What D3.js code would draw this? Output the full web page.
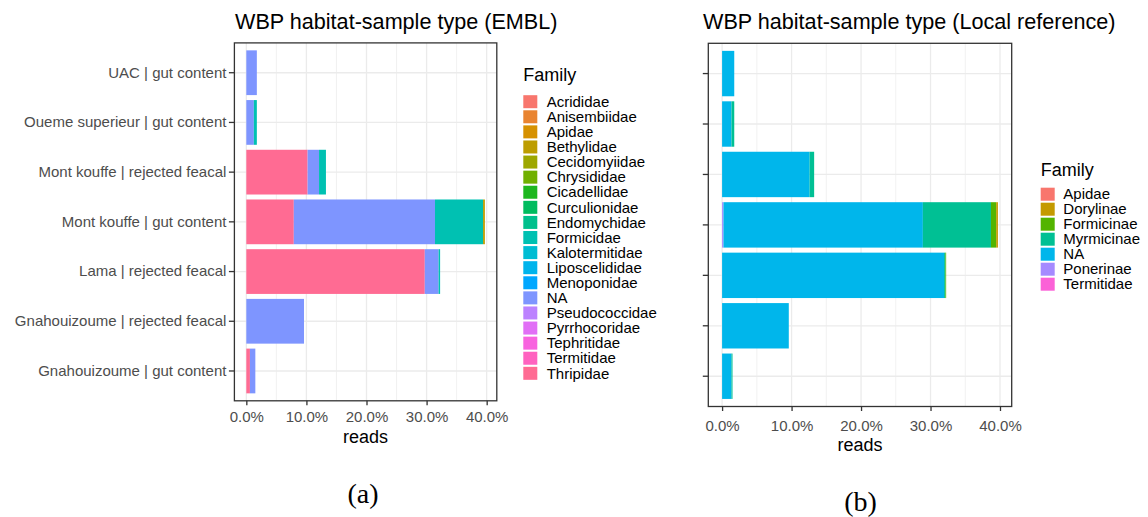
<!DOCTYPE html>
<html>
<head>
<meta charset="utf-8">
<script src="https://cdn.jsdelivr.net/npm/d3@7"></script>
<style>
  html, body { margin: 0; padding: 0; background: #ffffff; }
  svg { display: block; font-family: "Liberation Sans", Arial, sans-serif; }
</style>
</head>
<body>
<svg id="chart" width="1148" height="517"></svg>
<script>
// ---------------- data ----------------
const categories = [
  "UAC | gut content",
  "Oueme superieur | gut content",
  "Mont kouffe | rejected feacal",
  "Mont kouffe | gut content",
  "Lama | rejected feacal",
  "Gnahouizoume | rejected feacal",
  "Gnahouizoume | gut content"
];

const xTicks = [0, 0.1, 0.2, 0.3, 0.4];

// Panel (a): EMBL
const emblFamilies = ["Acrididae","Anisembiidae","Apidae","Bethylidae","Cecidomyiidae","Chrysididae",
  "Cicadellidae","Curculionidae","Endomychidae","Formicidae","Kalotermitidae","Liposcelididae",
  "Menoponidae","NA","Pseudococcidae","Pyrrhocoridae","Tephritidae","Termitidae","Thripidae"];
const emblColors = ["#F8766D","#E98430","#D69100","#BD9D00","#9DA700","#70B000",
  "#1DB71F","#00BC5F","#00C08D","#00C1B2","#00BDD3","#00B4EC",
  "#00A7FF","#7E95FF","#BC82FF","#E16FF6","#F863DF","#FF62BF","#FF6B93"];
const emblThripidae  = [0,      0,      0.102,  0.079,  0.297,  0,      0.006];
const emblNA         = [0.0175, 0.0125, 0.019,  0.235,  0.023,  0.096,  0.009];
const emblFormicidae = [0,      0.005,  0.0115, 0.080,  0.0025, 0,      0];
const emblBethylidae = [0,      0,      0,      0.003,  0,      0,      0];

// Panel (b): Local reference
const localFamilies = ["Apidae","Dorylinae","Formicinae","Myrmicinae","NA","Ponerinae","Termitidae"];
const localColors = ["#F8766D","#C49A00","#53B400","#00C094","#00B6EB","#A58AFF","#FB61D7"];
const localPonerinae  = [0,      0,      0,      0.002,  0,       0,     0];
const localNA         = [0.0175, 0.0135, 0.126,  0.287,  0.3195,  0.096, 0.0135];
const localMyrmicinae = [0,      0.004,  0.0065, 0.098,  0.002,   0,     0.0015];
const localFormicinae = [0,      0,      0,      0.0075, 0.001,   0,     0];
const localDorylinae  = [0,      0,      0,      0.0025, 0,       0,     0];

// ---------------- helpers ----------------
function buildRows(families, series) {
  return categories.map((c, i) => {
    const row = { category: c };
    families.forEach(f => { row[f] = series[f] ? series[f][i] : 0; });
    return row;
  });
}

const emblRows = buildRows(emblFamilies, {
  Thripidae: emblThripidae, NA: emblNA, Formicidae: emblFormicidae, Bethylidae: emblBethylidae
});
const localRows = buildRows(localFamilies, {
  Ponerinae: localPonerinae, NA: localNA, Myrmicinae: localMyrmicinae,
  Formicinae: localFormicinae, Dorylinae: localDorylinae
});

const svg = d3.select("#chart");
const GRID = "#EBEBEB", BORDER = "#333333", TICKTXT = "#4D4D4D";
const SMALL = 15;

function drawPanel(cfg) {
  const { rows, families, colors, x0, x1, y0, y1, showY, title, titleX, titleY,
          tickPad, readsY, legendX, legendTitleY, legendRow0, legendStep, labelOffset } = cfg;

  const totals = rows.map(r => d3.sum(families, f => r[f]));
  const maxV = d3.max(totals);
  const x = d3.scaleLinear().domain([-0.05 * maxV, 1.05 * maxV]).range([x0, x1]);
  const y = d3.scaleBand().domain(categories).range([y0, y1]).paddingInner(0.1).paddingOuter(0.15);
  const color = d3.scaleOrdinal().domain(families).range(colors);

  const g = svg.append("g");

  g.append("rect").attr("x", x0).attr("y", y0).attr("width", x1 - x0).attr("height", y1 - y0)
    .attr("fill", "#ffffff");

  const minor = xTicks.slice(0, -1).map((t, i) => (t + xTicks[i + 1]) / 2);
  g.selectAll(".minor").data(minor).join("line")
    .attr("x1", d => x(d)).attr("x2", d => x(d)).attr("y1", y0).attr("y2", y1)
    .attr("stroke", GRID).attr("stroke-width", 0.7);
  g.selectAll(".majorx").data(xTicks).join("line")
    .attr("x1", d => x(d)).attr("x2", d => x(d)).attr("y1", y0).attr("y2", y1)
    .attr("stroke", GRID).attr("stroke-width", 1.3);
  g.selectAll(".majory").data(categories).join("line")
    .attr("x1", x0).attr("x2", x1)
    .attr("y1", d => y(d) + y.bandwidth() / 2).attr("y2", d => y(d) + y.bandwidth() / 2)
    .attr("stroke", GRID).attr("stroke-width", 1.3);

  // stacked bars: ggplot stacks last level first (leftmost)
  const stack = d3.stack().keys(families.slice().reverse());
  const series = stack(rows);
  g.selectAll(".layer").data(series).join("g")
    .attr("fill", d => color(d.key))
    .selectAll("rect").data(d => d.filter(p => p[1] - p[0] > 0)).join("rect")
      .attr("x", d => x(d[0]))
      .attr("width", d => x(d[1]) - x(d[0]))
      .attr("y", d => y(d.data.category))
      .attr("height", y.bandwidth());

  g.append("rect").attr("x", x0).attr("y", y0).attr("width", x1 - x0).attr("height", y1 - y0)
    .attr("fill", "none").attr("stroke", BORDER).attr("stroke-width", 1.3);

  const yAxis = d3.axisLeft(y).tickSize(5.5).tickPadding(2.5);
  if (!showY) yAxis.tickFormat(() => "");
  const ya = g.append("g").attr("transform", `translate(${x0},0)`).call(yAxis);
  ya.select(".domain").remove();
  ya.selectAll("line").attr("stroke", BORDER).attr("stroke-width", 1.3);
  ya.selectAll("text").attr("fill", TICKTXT).attr("font-size", SMALL)
    .attr("font-family", "'Liberation Sans', Arial, sans-serif");

  const xAxis = d3.axisBottom(x).tickValues(xTicks).tickFormat(d3.format(".1%"))
    .tickSize(4.5).tickPadding(tickPad);
  const xa = g.append("g").attr("transform", `translate(0,${y1})`).call(xAxis);
  xa.select(".domain").remove();
  xa.selectAll("line").attr("stroke", BORDER).attr("stroke-width", 1.3);
  xa.selectAll("text").attr("fill", TICKTXT).attr("font-size", SMALL)
    .attr("font-family", "'Liberation Sans', Arial, sans-serif");

  g.append("text").attr("x", (x0 + x1) / 2).attr("y", readsY).attr("text-anchor", "middle")
    .attr("font-size", 18).attr("fill", "#000").text("reads");

  g.append("text").attr("x", titleX).attr("y", titleY).attr("font-size", 21.6)
    .attr("fill", "#000").text(title);

  const lg = g.append("g");
  lg.append("text").attr("x", legendX).attr("y", legendTitleY).attr("font-size", 18)
    .attr("fill", "#000").text("Family");
  const items = lg.selectAll(".item").data(families).join("g")
    .attr("transform", (d, i) => `translate(${legendX},${legendRow0 + i * legendStep})`);
  items.append("rect").attr("x", 0).attr("y", -6.5).attr("width", 14).attr("height", 13)
    .attr("fill", d => color(d));
  items.append("text").attr("x", labelOffset).attr("y", 0).attr("dy", "0.35em")
    .attr("font-size", SMALL).attr("fill", "#000").text(d => d);
}

drawPanel({
  rows: emblRows, families: emblFamilies, colors: emblColors,
  x0: 234.4, x1: 496.8, y0: 42.9, y1: 400.8, showY: true,
  title: "WBP habitat-sample type (EMBL)", titleX: 235, titleY: 28.8,
  tickPad: 6.5, readsY: 442.5,
  legendX: 523.3, legendTitleY: 81.2, legendRow0: 101.7, legendStep: 15.09, labelOffset: 23.4
});

drawPanel({
  rows: localRows, families: localFamilies, colors: localColors,
  x0: 708.3, x1: 1011.7, y0: 43.3, y1: 406.5, showY: false,
  title: "WBP habitat-sample type (Local reference)", titleX: 703, titleY: 28.8,
  tickPad: 9, readsY: 451,
  legendX: 1040.7, legendTitleY: 176.3, legendRow0: 194.2, legendStep: 15.0, labelOffset: 22.6
});

svg.append("text").attr("x", 363).attr("y", 503).attr("text-anchor", "middle")
  .attr("font-family", "'Liberation Serif', 'Times New Roman', serif").attr("font-size", 28)
  .attr("fill", "#000").text("(a)");
svg.append("text").attr("x", 860.5).attr("y", 511).attr("text-anchor", "middle")
  .attr("font-family", "'Liberation Serif', 'Times New Roman', serif").attr("font-size", 28)
  .attr("fill", "#000").text("(b)");
</script>
</body>
</html>
